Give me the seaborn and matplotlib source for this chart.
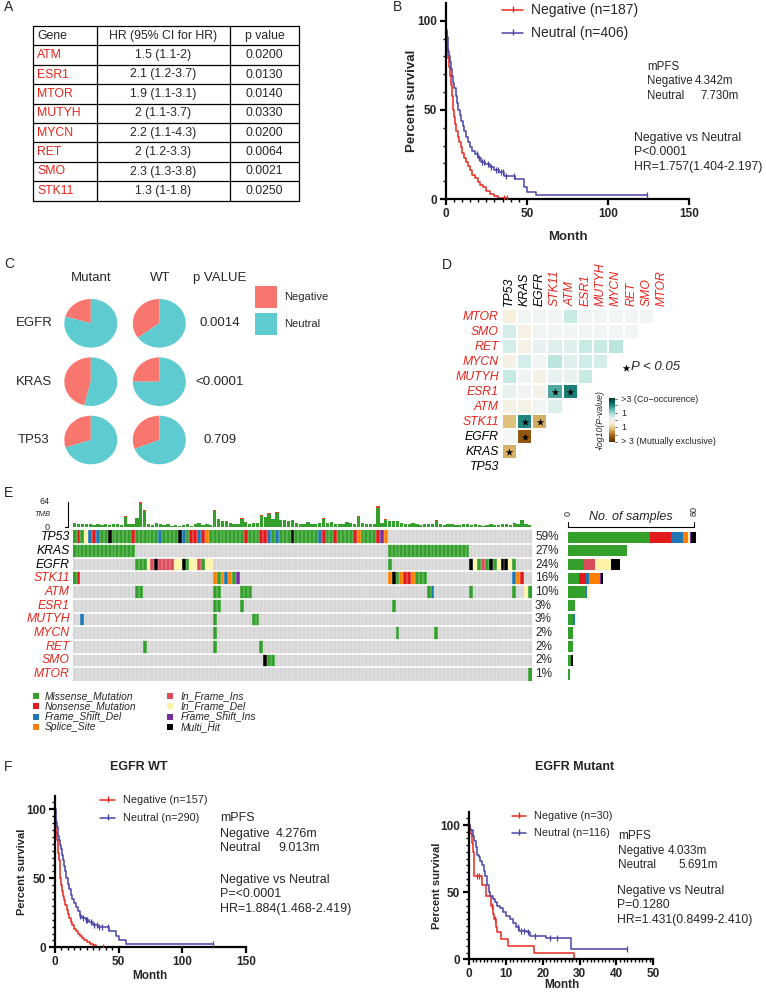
import numpy as np
import pandas as pd
import matplotlib
matplotlib.use('Agg')
import matplotlib.pyplot as plt
import seaborn as sns
from matplotlib.colors import ListedColormap

sns.set_theme(style='white')
plt.rcParams['font.family'] = ['Liberation Sans', 'DejaVu Sans']

W, H = 766, 992
RED_TXT = '#E3261C'
KM_RED = '#E8281E'
KM_BLUE = '#4A44A8'
NEG_PIE = '#F8766D'
NEU_PIE = '#5DCBD0'

# ---------------- data ----------------
# A: table
table_genes = ['ATM', 'ESR1', 'MTOR', 'MUTYH', 'MYCN', 'RET', 'SMO', 'STK11']
table_hr = ['1.5 (1.1-2)', '2.1 (1.2-3.7)', '1.9 (1.1-3.1)', '2 (1.1-3.7)',
            '2.2 (1.1-4.3)', '2 (1.2-3.3)', '2.3 (1.3-3.8)', '1.3 (1-1.8)']
table_p = ['0.0200', '0.0130', '0.0140', '0.0330', '0.0200', '0.0064', '0.0021', '0.0250']

# B: KM all patients (time in months, percent survival)
b_neg_t = [0, 0.3, 0.6, 1.0, 1.5, 2.0, 2.5, 3.0, 3.6, 4.3, 5.0, 5.8, 6.6, 7.4, 8.2, 9.2, 10.2, 11.2,
           12.4, 13.6, 15.0, 16.4, 18.0, 19.6, 21.2, 23.0, 25.0, 27.5, 30.0, 32.5]
b_neg_s = [100, 94, 89, 84, 79, 74, 69, 64, 58, 50, 46, 42, 38, 35, 32, 29, 26, 23,
           21, 18.5, 16, 13.5, 11.5, 9.5, 8, 6.5, 4.5, 3, 1.5, 0.5]
b_neg_end = 38
b_neg_cens = [36, 38]
b_neu_t = [0, 0.4, 0.8, 1.2, 1.7, 2.2, 2.8, 3.4, 4.0, 4.7, 5.4, 6.1, 6.9, 7.7, 8.6, 9.5, 10.5, 11.5,
           12.6, 13.8, 15.0, 16.5, 18.0, 20.0, 22.0, 24.5, 27.0, 30.0, 33.0, 36.0, 42.5, 48.0, 50.0, 55.5]
b_neu_s = [100, 95, 91, 87, 83, 80, 77, 73, 69, 65, 62, 58, 54, 50, 47, 44, 41, 38,
           35, 32, 29, 27, 25, 23, 21, 19.5, 18, 16.5, 15, 13, 11, 7, 4, 2.2]
b_neu_end = 124
b_neu_cens = [19, 20.5, 22.5, 23.5, 26, 28, 31, 32, 34, 35.5, 37, 42, 124]

# C: pies (fraction Negative)
pie_genes = ['EGFR', 'KRAS', 'TP53']
neg_frac_mutant = [0.205, 0.46, 0.30]
neg_frac_wt = [0.351, 0.25, 0.31]
pie_pvalues = ['0.0014', '<0.0001', '0.709']

# D: somatic interactions, signed -log10(P) (row gene vs earlier genes)
d_cols = ['TP53', 'KRAS', 'EGFR', 'STK11', 'ATM', 'ESR1', 'MUTYH', 'MYCN', 'RET', 'SMO', 'MTOR']
d_rows = ['MTOR', 'SMO', 'RET', 'MYCN', 'MUTYH', 'ESR1', 'ATM', 'STK11', 'EGFR', 'KRAS', 'TP53']
d_mtor = [-0.3, 0.05, 0.05, 0.05, 0.6, 0.05, 0.05, 0.05, 0.05, 0.05]
d_smo = [0.4, -0.2, 0.05, 0.05, 0.05, 0.05, 0.05, 0.05, 0.05]
d_ret = [0.4, -0.2, 0.2, 0.3, 0.3, 0.6, 0.6, 0.7]
d_mycn = [-0.2, 0.4, 0.05, 0.7, 0.3, 0.5, 0.4]
d_mutyh = [0.6, 0.05, -0.2, 0.2, 0.2, 0.6]
d_esr1 = [0.2, 0.05, -0.15, 1.6, 2.1]
d_atm = [-0.2, -0.2, 0.05, 0.3]
d_stk11 = [-1.2, 2.0, -1.4]
d_egfr = [0.0, -2.3]
d_kras = [-1.35]
d_tp53 = []

# E: oncoplot
onco_genes = ['TP53', 'KRAS', 'EGFR', 'STK11', 'ATM', 'ESR1', 'MUTYH', 'MYCN', 'RET', 'SMO', 'MTOR']
onco_pct = ['59%', '27%', '24%', '16%', '10%', '3%', '3%', '2%', '2%', '2%', '1%']
# M missense, N nonsense, D frame shift del, S splice, I in-frame ins, E in-frame del,
# F frame shift ins, X multi hit, . none  (118 samples, 10 per block)
onco_rows = [
    'MNMEDNDMMX MMMMMNMMMM MMDMMMMXDM NNDNSMMMMM MMMMNMMMNN DMDMMMXMMM MMMDNMMNMM MMNSMMMMNF S......... .......... .......... ........',
    'MMMMMMMMMM MMMMMM.... .......... .......... .......... .......... .......... .......... .MMMMMMMMM MMMMMMMMMM MM........ ........',
    '.......... ......MMME IXIIIIEEXM EEIMEE.... .......... .......... .......... .......... .M........ .......... ..XEMIMXME XXEM....',
    'MN........ .......... .......... ......SMSD SMF....... .......... .......... .......... .SXMSNNSMM M......... .......... ...DSN..',
    '.......... ......MM.. .......... ......MM.. ...MMM.... .......... .......... .......... .......... .MD....... ..M....... ...M..EM',
    '.......... .......... .......... ......MM.. ...M...... .......... .......... .......... ..M....... .......... .......... ........',
    '..D....... .......... .......... ......M... ......MM.. .......... .......... .......... .......... .......... .......... ........',
    '.......... .......... .......... ......M... .......... .......... .......... .......... ...M...... ...M...... .......... ........',
    '.......... ........M. .......... ......M... ........M. .......... .......... .......... .......... .......... .......... ........',
    '.......... .......... .......... .......... .........X MM........ .......... .......... .......... .......... .......... ........',
    '.......... .......... .......... .......... .......... .......... .......... .......... .......... .......... .......... .......M',
]
tmb = [9, 6, 8, 7, 6, 5, 7, 5, 6, 5, 7, 6, 5, 27, 8, 6,
       22, 64, 43, 7, 5, 9, 6, 4, 6, 3, 4, 2, 5, 8, 3, 6, 10, 4, 7, 5,
       43, 19, 14, 15, 10, 8, 6, 23, 12, 8, 9, 10, 30, 25, 35, 20, 37, 18, 17, 15,
       17, 9, 8, 7, 11, 8, 6, 9, 23, 10, 11, 7, 6, 8, 11, 9, 8, 28, 10, 7, 8, 6, 54, 9, 20,
       15, 14, 15, 10, 8, 7, 9, 6, 5, 7, 6, 8, 17, 7, 5, 6, 8, 4, 5, 7,
       6, 5, 8, 4, 3, 5, 6, 4, 5, 7, 6, 5, 10, 8, 17, 6, 5]
tmb_cap_cols = [13, 17, 18, 36, 43, 48, 50, 52, 64, 73, 78, 80, 93]
tmb_cap_vals = [3, 6, 4, 3, 3, 2, 3, 3, 3, 3, 5, 2, 3]

# F: KM by EGFR status
fw_neg_t = [0, 0.3, 0.6, 1.0, 1.5, 2.0, 2.5, 3.0, 3.6, 4.3, 5.0, 5.8, 6.6, 7.4, 8.2, 9.2, 10.2, 11.2,
            12.4, 13.6, 15.0, 16.4, 18.0, 19.6, 21.2, 23.0, 25.0, 27.5, 30.0, 32.0]
fw_neg_s = [100, 93, 88, 83, 78, 73, 68, 63, 57, 50, 45, 41, 37, 34, 31, 27, 24, 21,
            18.5, 16, 13.5, 11.5, 9.5, 8, 6.5, 5, 4, 2.5, 1.5, 0.5]
fw_neg_end = 38
fw_neg_cens = [38]
fw_neu_t = [0, 0.5, 1.0, 1.5, 2.0, 2.6, 3.2, 3.9, 4.6, 5.4, 6.2, 7.1, 8.0, 9.0, 10.0, 11.0, 12.2, 13.4,
            14.8, 16.2, 17.8, 19.5, 21.5, 24.0, 27.0, 30.0, 34.0, 42.5, 48.0, 50.0, 55.5]
fw_neu_s = [100, 95, 91, 87, 84, 81, 78, 74, 71, 67, 63, 59, 55, 50, 46, 42, 38, 35,
            32, 29, 26, 23, 21, 19.5, 18, 16.5, 14.5, 12, 8, 5, 2.2]
fw_neu_end = 124
fw_neu_cens = [20, 22, 24, 25.5, 28, 31, 33, 35, 37, 42, 124]

fm_neg_t = [0, 0.2, 0.5, 0.8, 1.1, 1.4, 3.4, 4.5, 6.1, 6.5, 6.9, 7.3, 7.6, 8.6, 10.7, 17.5, 28.5]
fm_neg_s = [100, 96.7, 93.3, 86.7, 80, 62, 55, 47, 40, 34, 30, 24, 20, 15, 10, 5, 0]
fm_neg_end = 28.5
fm_neg_cens = [2.2, 2.8, 6.3, 7.0]
fm_neu_t = [0, 0.3, 1.0, 1.4, 1.8, 2.2, 2.6, 3.0, 3.6, 4.0, 4.4, 4.8, 5.3, 5.8, 6.4, 7.0, 7.6, 8.4,
            9.2, 10.0, 11.0, 12.0, 12.8, 13.5, 15.6, 16.5, 21.0, 27.8]
fm_neu_s = [100, 96, 92, 88, 84, 78, 76, 73, 70, 66, 62, 55, 50, 47, 45, 43, 40, 38,
            35, 32, 30, 27, 24, 21, 20, 17, 16, 8]
fm_neu_end = 42.8
fm_neu_cens = [13.2, 14, 15, 16, 18, 22, 23.8, 42.8]

# ---------------- figure ----------------
fig = plt.figure(figsize=(W / 100, H / 100), dpi=100)
ov = fig.add_axes([0, 0, 1, 1])
ov.set_xlim(0, W)
ov.set_ylim(H, 0)
ov.axis('off')
ov.set_zorder(10)


def px_axes(x0, y0, x1, y1):
    return fig.add_axes([x0 / W, 1 - y1 / H, (x1 - x0) / W, (y1 - y0) / H])


def txt(x, y, s, **kw):
    kw.setdefault('va', 'center')
    kw.setdefault('ha', 'left')
    ov.text(x, y, s, **kw)


# panel letters
for lx, ly, letter in [(4, 7, 'A'), (393, 7, 'B'), (4, 264, 'C'), (442, 265, 'D'), (4, 493, 'E'), (4, 767, 'F')]:
    txt(lx, ly, letter, fontsize=10)

# ---- A: table
tx = [33.3, 96.7, 230, 299]
ty0, rh = 26, 19.4
for i in range(10):
    ov.plot([tx[0], tx[3]], [ty0 + i * rh] * 2, color='black', lw=0.9)
for x in tx:
    ov.plot([x, x], [ty0, ty0 + 9 * rh], color='black', lw=0.9)
hy = ty0 + rh / 2
txt(37, hy, 'Gene', fontsize=8.8)
txt(163, hy, 'HR (95% CI for HR)', fontsize=8.8, ha='center')
txt(264.5, hy, 'p value', fontsize=8.8, ha='center')
for i, (g, hr, p) in enumerate(zip(table_genes, table_hr, table_p)):
    yy = ty0 + (i + 1.5) * rh
    txt(37, yy, g, fontsize=8.8, color=RED_TXT)
    txt(163, yy, hr, fontsize=8.8, ha='center')
    txt(264.5, yy, p, fontsize=8.8, ha='center')


# ---- KM helper
def km_panel(ax, curves, xmax, xmajor, xminor, yminor):
    for t, s, end, cens, col in curves:
        tt = list(t) + [end]
        ss = list(s) + [s[-1]]
        sns.lineplot(x=tt, y=ss, drawstyle='steps-post', color=col, lw=1.1, ax=ax,
                     estimator=None, sort=False, legend=False)
        idx = np.searchsorted(np.array(t), np.array(cens), side='right') - 1
        ax.scatter(cens, np.array(s)[idx], marker='|', s=14, color=col, linewidths=0.9, zorder=3)
    ax.set_xlim(0, xmax)
    ax.set_ylim(0, 110)
    ax.set_facecolor('none')
    for sp in ['top', 'right']:
        ax.spines[sp].set_visible(False)
    for sp in ['left', 'bottom']:
        ax.spines[sp].set_linewidth(1.6)
        ax.spines[sp].set_color('black')
    ax.set_xticks(xmajor)
    ax.set_yticks([0, 50, 100])
    ax.set_xticks(xminor, minor=True)
    ax.set_yticks(yminor, minor=True)
    ax.tick_params(which='both', bottom=True, left=True, direction='out', color='black')
    ax.tick_params(which='major', length=4.5, width=1.6, labelsize=8.5, pad=2)
    ax.tick_params(which='minor', length=2.5, width=1.0)
    for lbl in ax.get_xticklabels() + ax.get_yticklabels():
        lbl.set_fontweight('bold')
    ax.set_xlabel('')
    ax.set_ylabel('')


def km_legend(x0, x1, ys, labels, fs):
    for y, lab, col in zip(ys, labels, [KM_RED, KM_BLUE]):
        ov.plot([x0, x1], [y, y], color=col, lw=1.1)
        ov.plot([(x0 + x1) / 2], [y - 1.5], marker='|', ms=4, color=col, mew=1)
        txt(x1 + 8, y, lab, fontsize=fs)


# ---- B
axB = px_axes(445.7, 2.9, 689.3, 199)
km_panel(axB, [(b_neg_t, b_neg_s, b_neg_end, b_neg_cens, KM_RED),
               (b_neu_t, b_neu_s, b_neu_end, b_neu_cens, KM_BLUE)],
         150, [0, 50, 100, 150], np.arange(5, 50, 5), np.arange(10, 110, 10))
km_legend(502, 523, [10, 33], ['Negative (n=187)', 'Neutral (n=406)'], 10)
txt(412, 101, 'Percent survival', fontsize=9.5, fontweight='bold', rotation=90, ha='center')
txt(568, 237, 'Month', fontsize=9.5, fontweight='bold', ha='center')
txt(647, 67, 'mPFS', fontsize=8.3)
txt(647, 81, 'Negative', fontsize=8.3)
txt(695, 81, '4.342m', fontsize=8.3)
txt(647, 96, 'Neutral', fontsize=8.3)
txt(700, 96, '7.730m', fontsize=8.3)
txt(634, 138, 'Negative vs Neutral', fontsize=8.8)
txt(634, 152, 'P<0.0001', fontsize=8.8)
txt(634, 167, 'HR=1.757(1.404-2.197)', fontsize=8.8)

# ---- C: pies
pie_x = [90.8, 159.3]
pie_y = [323.3, 381.7, 440]
txt(91, 278, 'Mutant', fontsize=9.5, ha='center')
txt(160, 278, 'WT', fontsize=9.5, ha='center')
txt(220, 278, 'p VALUE', fontsize=9.5, ha='center')
for r, g in enumerate(pie_genes):
    txt(34, pie_y[r], g, fontsize=9.5, ha='center')
    txt(220, pie_y[r], pie_pvalues[r], fontsize=9.5, ha='center')
    for c, frac in enumerate([neg_frac_mutant[r], neg_frac_wt[r]]):
        axp = px_axes(pie_x[c] - 26.5, pie_y[r] - 24.3, pie_x[c] + 26.5, pie_y[r] + 24.3)
        axp.pie([frac, 1 - frac], colors=[NEG_PIE, NEU_PIE], startangle=90, counterclock=True,
                wedgeprops=dict(linewidth=0))
        axp.set_aspect('auto')
        axp.set_xlim(-1, 1)
        axp.set_ylim(-1, 1)
        axp.axis('off')
for y0, lab, col in [(286, 'Negative', NEG_PIE), (313.3, 'Neutral', NEU_PIE)]:
    ov.add_patch(plt.Rectangle((255, y0), 21.7, 21.7, color=col, lw=0))
    txt(284, y0 + 11, lab, fontsize=8)

# ---- D: interaction heatmap
d_vals = [d_mtor, d_smo, d_ret, d_mycn, d_mutyh, d_esr1, d_atm, d_stk11, d_egfr, d_kras, d_tp53]
mat = np.full((11, 11), np.nan)
for r, vals in enumerate(d_vals):
    mat[r, :len(vals)] = vals
dfD = pd.DataFrame(mat, index=d_rows, columns=d_cols)
axD = px_axes(501.7, 309.2, 669.5, 474.2)
sns.heatmap(dfD, cmap='BrBG', vmin=-3, vmax=3, linewidths=1.2, linecolor='white', cbar=False,
            ax=axD, xticklabels=True, yticklabels=True)
axD.xaxis.tick_top()
axD.set_xticks(np.arange(11) + 0.5)
axD.set_xticklabels(d_cols, rotation=90, fontsize=8.8, fontstyle='italic', va='bottom')
axD.set_yticklabels(d_rows, rotation=0, fontsize=8.8, fontstyle='italic')
axD.tick_params(length=0, pad=2, top=True, bottom=False, left=False)
black_genes = ['TP53', 'KRAS', 'EGFR']
for lbl in axD.get_xticklabels() + axD.get_yticklabels():
    lbl.set_color('black' if lbl.get_text() in black_genes else RED_TXT)
axD.set_xlabel('')
axD.set_ylabel('')
sig_r, sig_c = np.where(np.abs(np.nan_to_num(mat)) >= 1.301)
axD.scatter(sig_c + 0.5, sig_r + 0.5, marker='*', s=32, color='black', zorder=3, linewidths=0)

ov.scatter([626], [368], marker='*', s=34, color='black', linewidths=0)
txt(631, 367, 'P < 0.05', fontsize=9.5, fontstyle='italic')
axCb = px_axes(608.5, 398, 614.5, 442)
axCb.imshow(np.linspace(3, -3, 100).reshape(-1, 1), cmap='BrBG', vmin=-3, vmax=3, aspect='auto')
axCb.set_xticks([])
axCb.set_yticks([])
for sp in axCb.spines.values():
    sp.set_visible(False)
for yy in [398.5, 405, 413, 420, 427, 435, 441.5]:
    ov.plot([614.5, 616.5], [yy, yy], color='#555555', lw=0.6)
txt(600, 420, '-log10(P-value)', fontsize=6.3, fontstyle='italic', rotation=90, ha='center')
txt(621, 399, '>3 (Co\u2212occurence)', fontsize=6.5)
txt(621, 413, '1', fontsize=6.5)
txt(621, 427.5, '1', fontsize=6.5)
txt(621, 441, '> 3 (Mutually exclusive)', fontsize=6.5)

# ---- E: oncoplot
vc_codes = '.MNDSIEFX'
vc_colors = ['#D6D6D6', '#33A02C', '#E31A1C', '#1F78B4', '#FF7F00', '#DB4C5C', '#FFF3A6', '#7B2D9E', '#000000']
rows_clean = [r.replace(' ', '') for r in onco_rows]
n_samp = len(rows_clean[0])
codes = np.array([[vc_codes.index(ch) for ch in r] for r in rows_clean])
m_x0, m_x1, m_y0, m_y1 = 72.7, 531.7, 530.3, 681
row_h = (m_y1 - m_y0) / len(onco_genes)
axE = px_axes(m_x0, m_y0, m_x1, m_y1)
sns.heatmap(pd.DataFrame(codes, index=onco_genes), cmap=ListedColormap(vc_colors), vmin=-0.5, vmax=8.5,
            cbar=False, linewidths=0, ax=axE, xticklabels=False, yticklabels=True)
axE.vlines(np.arange(1, n_samp), 0, len(onco_genes), color='white', lw=0.3, alpha=0.9)
axE.hlines(np.arange(1, len(onco_genes)), 0, n_samp, color='white', lw=1.2)
axE.set_yticklabels(onco_genes, rotation=0, fontsize=8.8, fontstyle='italic')
axE.tick_params(length=0, pad=2, left=False)
for lbl in axE.get_yticklabels():
    lbl.set_color('black' if lbl.get_text() in black_genes else RED_TXT)
axE.set_ylabel('')
for i, p in enumerate(onco_pct):
    txt(535, m_y0 + (i + 0.5) * row_h, p, fontsize=8.5)

# TMB bars
axT = px_axes(m_x0, 501.7, m_x1, 526.7)
tmb_arr = np.array(tmb, dtype=float)
axT.bar(np.arange(n_samp) + 0.5, tmb_arr, width=0.85, color='#33A02C', lw=0)
cc = np.array(tmb_cap_cols)
axT.bar(cc + 0.5, tmb_cap_vals, bottom=tmb_arr[cc] - np.array(tmb_cap_vals), width=0.85, color='#E8421C', lw=0)
axT.set_xlim(0, n_samp)
axT.set_ylim(0, 64)
axT.axis('off')
ov.plot([68, 68], [501.7, 526.7], color='black', lw=0.8)
ov.plot([65, 68], [526.7, 526.7], color='black', lw=0.8)
txt(50, 502, '64', fontsize=6.5, ha='right')
txt(50, 527, '0', fontsize=6.5, ha='right')
txt(50, 514, 'TMB', fontsize=5.5, fontstyle='italic', ha='right')

# side bars
axR = px_axes(568.3, m_y0, 708, m_y1)
for i in range(len(onco_genes)):
    left = 0
    for k in range(1, 9):
        n = int(np.sum(codes[i] == k))
        if n:
            axR.barh(i + 0.5, n, left=left, height=0.82, color=vc_colors[k], lw=0)
            left += n
axR.set_xlim(0, 80 * (708 - 568.3) / 126)
axR.set_ylim(len(onco_genes), 0)
axR.axis('off')
ov.plot([568.3, 568.3, 694.3, 694.3], [521.5, 527.3, 527.3, 521.5], color='black', lw=0.8)
txt(568.3, 513, '0', fontsize=6.5, rotation=90, ha='center')
txt(694.3, 511, '80', fontsize=6.5, rotation=90, ha='center')
txt(631, 517, 'No. of samples', fontsize=9, fontstyle='italic', ha='center')

# legend
leg1 = ['Missense_Mutation', 'Nonsense_Mutation', 'Frame_Shift_Del', 'Splice_Site']
leg2 = ['In_Frame_Ins', 'In_Frame_Del', 'Frame_Shift_Ins', 'Multi_Hit']
leg_y = [696, 706.3, 716.6, 727]
for j, (lab1, lab2) in enumerate(zip(leg1, leg2)):
    ov.scatter([36], [leg_y[j]], marker='s', s=13, color=vc_colors[1 + j], linewidths=0)
    txt(45, leg_y[j], lab1, fontsize=7.4, fontstyle='italic')
    ov.scatter([170], [leg_y[j]], marker='s', s=13, color=vc_colors[5 + j], linewidths=0)
    txt(181, leg_y[j], lab2, fontsize=7.4, fontstyle='italic')

# ---- F left: EGFR WT
txt(139, 767, 'EGFR WT', fontsize=9, fontweight='bold', ha='center')
axF1 = px_axes(55, 795.5, 245.7, 947.3)
km_panel(axF1, [(fw_neg_t, fw_neg_s, fw_neg_end, fw_neg_cens, KM_RED),
                (fw_neu_t, fw_neu_s, fw_neu_end, fw_neu_cens, KM_BLUE)],
         150, [0, 50, 100, 150], np.arange(5, 50, 5), np.arange(5, 110, 5))
km_legend(100, 115, [800, 818.3], ['Negative (n=157)', 'Neutral (n=290)'], 7.8)
txt(22, 872, 'Percent survival', fontsize=8, fontweight='bold', rotation=90, ha='center')
txt(150, 976, 'Month', fontsize=8.5, fontweight='bold', ha='center')
txt(220, 818, 'mPFS', fontsize=9)
txt(220, 834, 'Negative', fontsize=9)
txt(276, 834, '4.276m', fontsize=9)
txt(220, 848, 'Neutral', fontsize=9)
txt(278, 848, '9.013m', fontsize=9)
txt(220, 880, 'Negative vs Neutral', fontsize=9)
txt(220, 894, 'P=<0.0001', fontsize=9)
txt(220, 909, 'HR=1.884(1.468-2.419)', fontsize=9)

# ---- F right: EGFR Mutant
txt(575, 767, 'EGFR Mutant', fontsize=9, fontweight='bold', ha='center')
axF2 = px_axes(469, 811.6, 653.3, 959.3)
km_panel(axF2, [(fm_neg_t, fm_neg_s, fm_neg_end, fm_neg_cens, KM_RED),
                (fm_neu_t, fm_neu_s, fm_neu_end, fm_neu_cens, KM_BLUE)],
         50, [0, 10, 20, 30, 40, 50], np.arange(1, 50, 1), np.arange(5, 110, 5))
km_legend(512, 526, [816, 833], ['Negative (n=30)', 'Neutral (n=116)'], 7.8)
txt(437, 886, 'Percent survival', fontsize=8, fontweight='bold', rotation=90, ha='center')
txt(562, 985, 'Month', fontsize=8.5, fontweight='bold', ha='center')
txt(618, 836, 'mPFS', fontsize=8.5)
txt(618, 851, 'Negative', fontsize=8.5)
txt(668, 851, '4.033m', fontsize=8.5)
txt(618, 865, 'Neutral', fontsize=8.5)
txt(678, 865, '5.691m', fontsize=8.5)
txt(617, 891, 'Negative vs Neutral', fontsize=8.8)
txt(617, 905, 'P=0.1280', fontsize=8.8)
txt(617, 920, 'HR=1.431(0.8499-2.410)', fontsize=8.8)

fig.savefig('out.png', dpi=100)
